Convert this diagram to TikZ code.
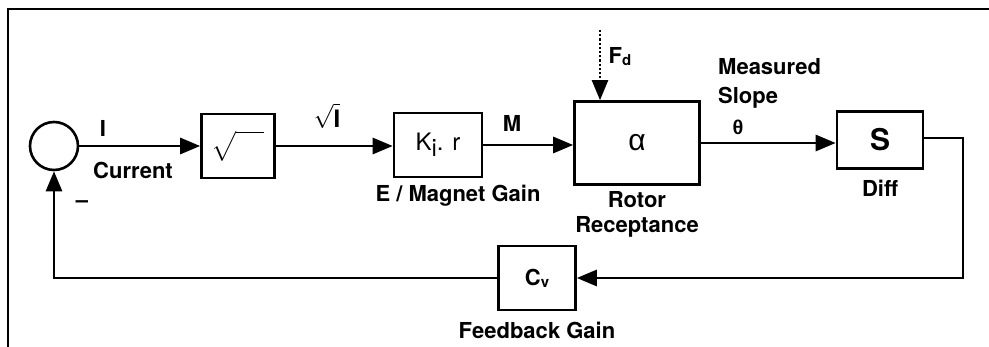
\RequirePackage{fix-cm}
\documentclass[tikz,border=0pt]{standalone}
\usepackage{amsmath}
\usepackage{fontspec}
\setmainfont{TeX Gyre Heros}
\newfontfamily\grk{Liberation Sans}
\usetikzlibrary{arrows.meta,positioning}
\tikzset{
  blk/.style={rectangle, draw=black, line width=2.6pt, inner sep=0pt, font=\fontsize{24}{26}\selectfont},
  lbl/.style={inner sep=0pt, font=\bfseries\fontsize{22}{25}\selectfont},
  sig/.style={-{Triangle[length=20pt,width=16pt]}, line width=2.8pt},
  dist/.style={-{Triangle[length=20pt,width=16pt]}, line width=2.2pt, dotted},
  frm/.style={line width=1.6pt},
}

\begin{document}
\begin{tikzpicture}[x=1pt,y=-1pt]
  \useasboundingbox (0,0) rectangle (989,347);
  \draw[frm] (8,347) -- (8,9) -- (989,9);
  % blocks
  \node[blk, minimum size=48pt, circle] (sum) at (54,146) {};
  \node[blk, minimum width=73pt, minimum height=64pt] (root) at (238,146) {$\sqrt{\rule{0pt}{26pt}\hspace{28pt}}$};
  \node[blk, minimum width=88pt, minimum height=64pt] (gain) at (438,145) {K\raisebox{-6pt}{i}. r};
  \node[blk, minimum width=125pt, minimum height=83pt] (rotor) at (637,143) {\grk\fontsize{30}{30}\selectfont α};
  \node[blk, minimum width=86pt, minimum height=57pt] (diff) at (880,140) {\bfseries\fontsize{30}{30}\selectfont S};
  \node[blk, minimum width=77pt, minimum height=64pt] (fb) at (537,278) {\bfseries\fontsize{22}{24}\selectfont C\raisebox{-2pt}{\fontsize{15}{15}\selectfont v}};
  \coordinate (fd) at (600,30);
  \coordinate (rc) at (963,138);
  % labels
  \node[lbl] (lI) at (103,128) {I};
  \node[lbl] (lcur) at (133,170) {Current};
  \node[lbl] (lneg) at (82,204) {\textendash};
  \node[lbl, font=\bfseries\fontsize{24}{24}\selectfont] (lroot) at (327,116) {$\sqrt{\rule{0pt}{19pt}\textbf{I}}$};
  \node[lbl] (lM) at (512,123) {M};
  \node[lbl] (lgain) at (458,196) {E / Magnet Gain};
  \node[lbl] (lfd) at (620,57) {F\raisebox{-2pt}{\fontsize{15}{15}\selectfont d}};
  \node[lbl, anchor=west, align=left, font=\bfseries\fontsize{22}{29}\selectfont] (lslope) at (718,83) {Measured\\Slope};
  \node[lbl, font=\grk\bfseries\fontsize{20}{20}\selectfont] (lth) at (738,127) {θ};
  \node[lbl, align=center] (lrotor) at (637,214) {Rotor\\Receptance};
  \node[lbl] (ldiff) at (880,188) {Diff};
  \node[lbl] (lfb) at (537,330) {Feedback Gain};
  % connectors
  \draw[sig] (sum.east) -- (root.west);
  \draw[sig] (root.east) -- (root.east -| gain.west);
  \draw[sig] (gain.east) -- (gain.east -| rotor.west);
  \draw[sig] (rotor.east) -- (rotor.east -| diff.west);
  \draw[dist] (fd) -- (fd |- rotor.north);
  \draw[sig] (diff.east |- rc) -- (rc) |- (fb.east);
  \draw[sig] (fb.west) -| (sum.south);
\end{tikzpicture}
\end{document}
